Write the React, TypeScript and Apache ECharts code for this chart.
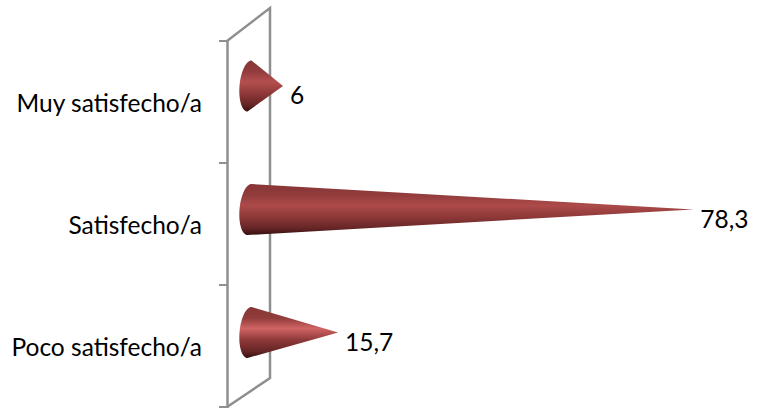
import React, { useEffect, useRef } from "react";
import * as echarts from "echarts";

const categories = ["Poco satisfecho/a", "Satisfecho/a", "Muy satisfecho/a"];
const values = [15.7, 78.3, 6];
const valueLabels = ["15,7", "78,3", "6"];
const wallColor = "#8f8f8f";
const coneLift = [13.5, 14.5, 16];

function renderCone(params: any, api: any) {
  const i = params.dataIndex;
  const tipPoint = api.coord([api.value(0), i]);
  const basePoint = api.coord([0, i]);
  const cy = basePoint[1] - coneLift[i];
  const cx = basePoint[0] + 0.5;
  const tipX = tipPoint[0];
  const tipY = cy;
  const rx = 10;
  const ry = 25.5;
  const tilt = 2;
  const pts: number[][] = [];
  for (let k = 0; k <= 40; k++) {
    const t = -Math.PI / 2 - (Math.PI * k) / 40;
    const sy = Math.sin(t);
    pts.push([cx + rx * Math.cos(t) - tilt * sy, cy + ry * sy]);
  }
  // pts runs from the top apex round the left side to the bottom apex
  pts.push([tipX, tipY]);
  const bright = i === 0 ? "#d06464" : i === 1 ? "#ad4a4a" : "#b44f4f";
  return {
    type: "group",
    children: [
      {
        type: "polygon",
        shape: { points: pts },
        style: {
          fill: new echarts.graphic.LinearGradient(0, 0, 0, 1, [
            { offset: 0, color: "#873535" },
            { offset: 0.22, color: "#923c3c" },
            { offset: 0.42, color: bright },
            { offset: 0.65, color: "#8e3838" },
            { offset: 0.87, color: "#652525" },
            { offset: 1, color: "#351010" },
          ]),
        },
      },
      {
        type: "text",
        style: {
          text: valueLabels[i],
          x: tipX + 7,
          y: tipY + 8.5,
          fill: "#000",
          font: "24.5px Lato",
          textAlign: "left",
          textVerticalAlign: "middle",
        },
      },
    ],
  };
}

export default function App() {
  const ref = useRef<HTMLDivElement>(null);
  useEffect(() => {
    document.body.style.margin = "0";
    const chart = echarts.init(ref.current!, null, { renderer: "svg" });
    const line = { stroke: wallColor, lineWidth: 2.5 };
    chart.setOption({
      animation: false,
      backgroundColor: "#fff",
      grid: { left: 249, right: 59, top: 41, bottom: 1 },
      xAxis: { type: "value", min: 0, max: 80, show: false },
      yAxis: {
        type: "category",
        data: categories,
        offset: 22,
        axisLine: { show: true, onZero: false, lineStyle: { color: wallColor, width: 2.5 } },
        axisTick: { show: true, length: 8, lineStyle: { color: wallColor, width: 2 } },
        axisLabel: { color: "#000", fontFamily: "Lato", fontSize: 24.5, margin: 25, padding: [14, 0, 0, 0] },
        splitLine: { show: false },
      },
      graphic: [
        {
          type: "polyline",
          z: 0,
          shape: { points: [[227, 41], [270, 8], [270, 378], [227, 407]] },
          style: { ...line, fill: "none" },
        },
      ],
      series: [
        {
          type: "custom",
          z: 5,
          renderItem: renderCone,
          encode: { x: 0 },
          data: values.map((v) => [v]),
        },
      ],
    });
    return () => chart.dispose();
  }, []);
  return <div ref={ref} style={{ width: 762, height: 408 }} />;
}
